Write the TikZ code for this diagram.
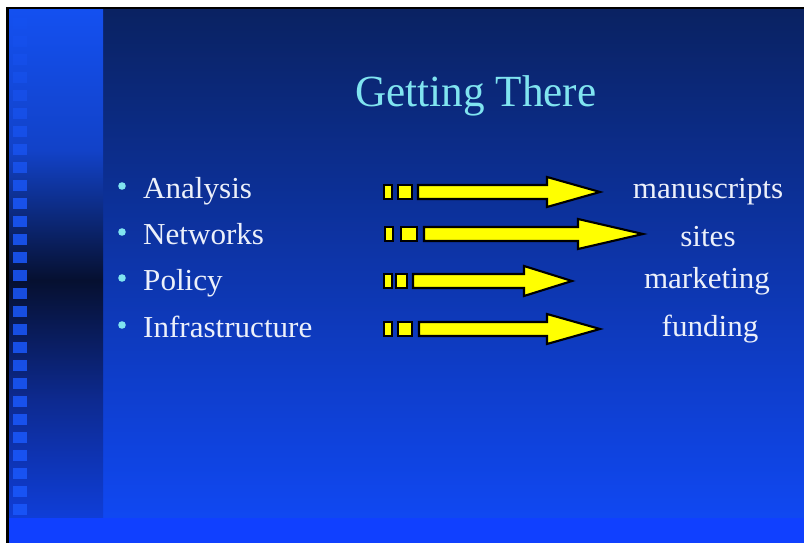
\documentclass[tikz,border=0pt]{standalone}
\usepackage{fontspec}
\setmainfont{Liberation Serif}
\newfontfamily\titlefont[FakeStretch=0.97]{Liberation Serif}
\newfontfamily\slidefont[FakeStretch=1.02]{Liberation Serif}
\definecolor{navytop}{HTML}{0A2262}
\definecolor{navybot}{HTML}{1048F2}
\definecolor{bandblue}{HTML}{1040FF}
\definecolor{striptop}{HTML}{1450F0}
\definecolor{stripupper}{HTML}{1242C8}
\definecolor{stripdark}{HTML}{061030}
\definecolor{stripmid}{HTML}{0D2A90}
\definecolor{stripbot}{HTML}{0F3ED8}
\definecolor{tileblue}{HTML}{1A58FC}
\definecolor{titlecyan}{HTML}{80E4F0}
\definecolor{itemwhite}{HTML}{ECF0FA}
\definecolor{arrowyellow}{HTML}{FFFF00}
\pgfdeclareverticalshading{stripshade}{100bp}{color(0bp)=(stripbot); color(25bp)=(stripbot); color(36.6bp)=(stripmid); color(48.4bp)=(stripdark); color(61.2bp)=(stripupper); color(75bp)=(striptop); color(100bp)=(striptop)}
\tikzset{
  slidetitle/.style={font=\titlefont\fontsize{38pt}{44pt}\selectfont, text=titlecyan, anchor=base, inner sep=0pt},
  itemtext/.style={font=\slidefont\fontsize{26pt}{31pt}\selectfont, text=itemwhite, anchor=base west, inner sep=0pt},
  goaltext/.style={font=\slidefont\fontsize{26pt}{31pt}\selectfont, text=itemwhite, anchor=base, inner sep=0pt},
  arrowbox/.style={draw=black, fill=arrowyellow, line width=1.8pt},
}
\begin{document}
\begin{tikzpicture}[x=0.03cm,y=-0.03cm]
\useasboundingbox (0,0) rectangle (804,543);
%page and frame
\fill[white] (0,0) rectangle (804,543);
\fill[black] (6,7) rectangle (804,543);
%slide background
\shade[top color=navytop, bottom color=navybot] (103,10) rectangle (804,518);
\shade[shading=stripshade] (9,10) rectangle (103,518);
\fill[bandblue] (9,518) rectangle (804,543);
%tiles on the left strip, faint at the top
\foreach \k in {0,...,27}{
  \pgfmathsetmacro{\op}{min(0.85,0.15+0.07*\k)}
  \fill[tileblue, opacity=\op] (13,18+18*\k) rectangle ++(14,11);
}
%title
\node[slidetitle] (title) at (476,107) {Getting There};
%bullet list
\foreach \name/\txt/\yb in {ana/Analysis/199, net/Networks/245, pol/Policy/291, inf/Infrastructure/338}{
  \fill[titlecyan] (122,\yb-13) circle[radius=3.8];
  \node[itemtext] (\name) at (143,\yb) {\txt};
}
%arrows
\foreach \yc/\xb/\xs/\xe/\xa/\xh/\xt in {192/384/398/412/418/547/600, 234/385/401/417/424/578/643, 281/384/396/407/413/524/572, 329/384/398/412/419/547/600}{
  \draw[arrowbox] (\xb,\yc-7) rectangle (\xb+8,\yc+7);
  \draw[arrowbox] (\xs,\yc-7) rectangle (\xe,\yc+7);
  \draw[arrowbox] (\xa,\yc-7) -- (\xh,\yc-7) -- (\xh,\yc-15) -- (\xt,\yc) -- (\xh,\yc+15) -- (\xh,\yc+7) -- (\xa,\yc+7) -- cycle;
}
%targets
\node[goaltext] (manu) at (708,199) {manuscripts};
\node[goaltext] (site) at (708,247) {sites};
\node[goaltext] (mark) at (707,289) {marketing};
\node[goaltext] (fund) at (710,337) {funding};
\end{tikzpicture}
\end{document}
